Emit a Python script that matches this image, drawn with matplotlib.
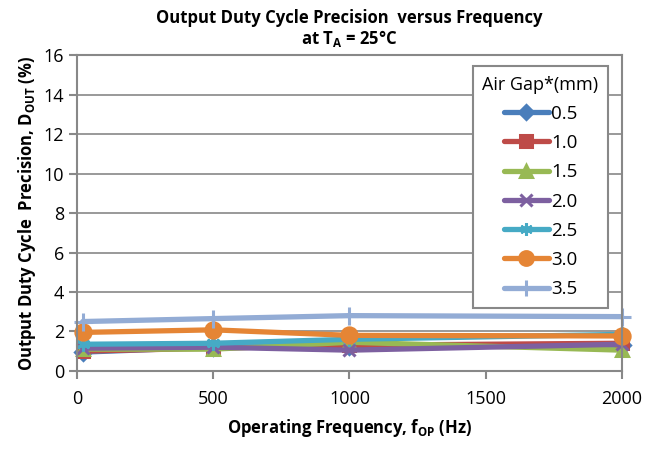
#Output duty cycle precision vs frequency, several air gaps
import numpy as np
import matplotlib
matplotlib.use('Agg')
import matplotlib.pyplot as plt

plt.rcParams['font.family'] = ['Open Sans', 'DejaVu Sans']
plt.rcParams['mathtext.fontset'] = 'custom'
plt.rcParams['mathtext.rm'] = 'Open Sans:bold'
plt.rcParams['mathtext.default'] = 'rm'

freq = [20, 500, 1000, 2000]  #Hz
gaps = ['0.5', '1.0', '1.5', '2.0', '2.5', '3.0', '3.5']
d05 = [0.95, 1.2, 1.25, 1.3]
d10 = [1.0, 1.15, 1.3, 1.4]
d15 = [1.1, 1.1, 1.45, 1.05]
d20 = [1.15, 1.2, 1.05, 1.35]
d25 = [1.35, 1.4, 1.6, 1.85]
d30 = [1.95, 2.08, 1.8, 1.77]
d35 = [2.5, 2.65, 2.8, 2.75]
series = [d05, d10, d15, d20, d25, d30, d35]

colors = ['#4A7EBB', '#BE4B48', '#98B954', '#7D60A0', '#46AAC5', '#E58535', '#93ACD5']
markers = ['D', 's', '^', 'x', (6, 2, 0), 'o', '+']
msizes = [8, 9, 9, 9, 10, 11, 13]

fig = plt.figure(figsize=(6.6, 4.49), dpi=100)
ax = fig.add_axes([0.117, 0.174, 0.825, 0.703])

for vals, lab, c, m, ms in zip(series, gaps, colors, markers, msizes):
    ax.plot(freq, vals, color=c, lw=3.8, marker=m, ms=ms, mew=2.2,
            label=lab, solid_capstyle='round', clip_on=False)

ax.set_xlim(0, 2000)
ax.set_ylim(0, 16)
ax.set_xticks(np.arange(0, 2001, 500))
ax.set_yticks(np.arange(0, 17, 2))
ax.yaxis.grid(True, color='#888888', lw=1.2)
ax.set_axisbelow(True)
for s in ax.spines.values():
    s.set_color('#888888')
    s.set_linewidth(1.5)
ax.tick_params(axis='both', colors='#888888', width=1.5, length=6, labelsize=13,
               labelcolor='black')
ax.tick_params(axis='x', pad=8)

ax.set_title('Output Duty Cycle Precision  versus Frequency\nat T$_A$ = 25°C',
             fontsize=12, fontweight='bold', pad=8, linespacing=1.05)
ax.set_xlabel('Operating Frequency, f$_{OP}$ (Hz)', fontsize=12, fontweight='bold', labelpad=6)
ax.set_ylabel('Output Duty Cycle  Precision, D$_{OUT}$ (%)', fontsize=12, fontweight='bold', labelpad=4)

leg = ax.legend(title='Air Gap*(mm)', loc='upper right', bbox_to_anchor=(0.992, 0.995),
                fontsize=13.5, title_fontsize=13, frameon=True, fancybox=False,
                handlelength=2.4, labelspacing=0.6, borderpad=0.5, handletextpad=0.1,
                markerscale=0.9)
leg.get_frame().set_edgecolor('#888888')
leg.get_frame().set_linewidth(1.5)
leg.get_frame().set_alpha(1)

fig.savefig('out.png', dpi=100)
